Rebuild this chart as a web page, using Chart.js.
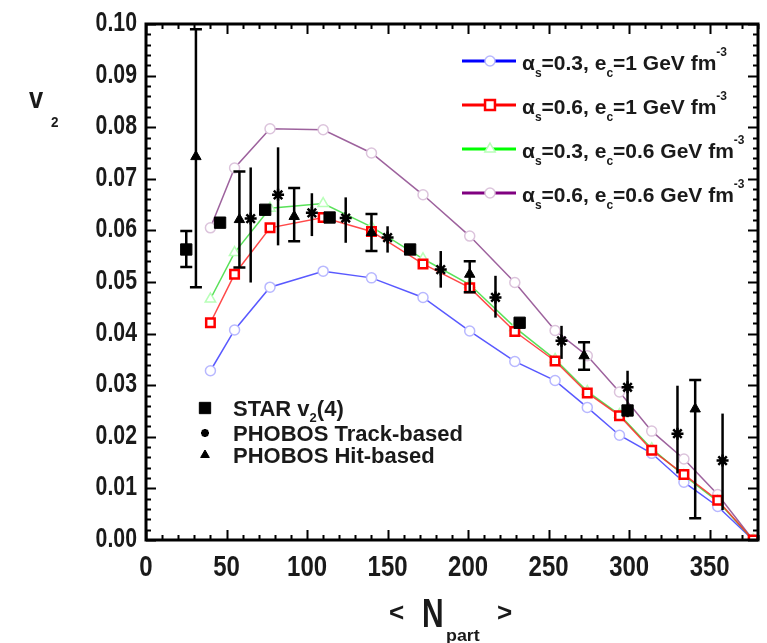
<!DOCTYPE html>
<html>
<head>
<meta charset="utf-8">
<title>v2 vs Npart</title>
<script src="https://cdn.jsdelivr.net/npm/chart.js@4.4.1/dist/chart.umd.min.js"></script>
<style>
  html, body { margin: 0; padding: 0; background: #fff; }
  #wrap { width: 767px; height: 643px; }
</style>
</head>
<body>
<div id="wrap"><canvas id="v2Chart" width="767" height="643"></canvas></div>
<script>
// Theory curves (common Npart grid)
const npartTheory = [40, 55, 77, 110, 140, 172, 201, 229, 254, 274, 294, 314, 334, 355, 377];
const v2As03Ec1  = [0.0328, 0.0407, 0.0490, 0.0521, 0.0508, 0.0470, 0.0405, 0.0346, 0.0309, 0.0257, 0.0203, 0.0168, 0.0112, 0.0065, 0];
const v2As06Ec1  = [0.0421, 0.0515, 0.0605, 0.0625, 0.0598, 0.0535, 0.0489, 0.0404, 0.0347, 0.0285, 0.0241, 0.0174, 0.0127, 0.0077, 0];
const v2As03Ec06 = [0.0467, 0.0557, 0.0643, 0.0652, 0.0607, 0.0545, 0.0495, 0.0412, 0.0350, 0.0288, 0.0243, 0.0177, 0.0125, 0.0075, 0];
const v2As06Ec06 = [0.0605, 0.0721, 0.0797, 0.0795, 0.0750, 0.0669, 0.0589, 0.0499, 0.0406, 0.0357, 0.0287, 0.0211, 0.0157, 0.0088, 0];

// STAR v2{4}
const starNpart = [25, 46, 74, 114, 164, 232, 299];
const starV2    = [0.0563, 0.0615, 0.0640, 0.0625, 0.0563, 0.0421, 0.0251];
const starLo    = [0.0529, null, null, null, null, null, null];
const starHi    = [0.0599, null, null, null, null, null, null];

// PHOBOS track-based
const trackNpart = [65, 82, 103, 124, 150, 183, 217, 258, 299, 330, 358];
const trackV2    = [0.0623, 0.0669, 0.0634, 0.0624, 0.0586, 0.0524, 0.0470, 0.0386, 0.0296, 0.0206, 0.0154];
const trackLo    = [0.0499, 0.0571, 0.0589, 0.0576, 0.0557, 0.0489, 0.0431, 0.0351, 0.0238, 0.0129, 0.0058];
const trackHi    = [0.0722, 0.0761, 0.0672, 0.0664, 0.0608, 0.0560, 0.0512, 0.0415, 0.0328, 0.0299, 0.0245];

// PHOBOS hit-based
const hitNpart = [31, 58, 92, 140, 201, 272, 341];
const hitV2    = [0.0743, 0.0621, 0.0627, 0.0596, 0.0515, 0.0357, 0.0254];
const hitLo    = [0.0490, 0.0528, 0.0579, 0.0560, 0.0480, 0.0330, 0.0042];
const hitHi    = [0.0990, 0.0714, 0.0682, 0.0632, 0.0540, 0.0383, 0.0310];

// Axis ticks
const xTickLabels = [0, 50, 100, 150, 200, 250, 300, 350];
const yTickLabels = [0, 0.01, 0.02, 0.03, 0.04, 0.05, 0.06, 0.07, 0.08, 0.09, 0.10];

const FONT = "'Liberation Sans', Arial, sans-serif";
const INK = '#1a1a1a';

function pts(xs, ys) {
    return xs.map((x, i) => ({ x: x, y: ys[i] }));
}

// draw a string, optionally squeezed horizontally; returns right edge
function txt(ctx, s, x, y, font, sx, align) {
    ctx.save();
    ctx.font = font;
    const w = ctx.measureText(s).width * sx;
    let x0 = x;
    if (align === 'center') x0 = x - w / 2;
    else if (align === 'right') x0 = x - w;
    ctx.translate(x0, y);
    ctx.scale(sx, 1);
    ctx.textAlign = 'left';
    ctx.textBaseline = 'alphabetic';
    ctx.fillStyle = INK;
    ctx.fillText(s, 0, 0);
    ctx.restore();
    return x0 + w;
}

// pieces: [text, font, dy]
function richText(ctx, pieces, x, y) {
    let cx = x;
    pieces.forEach(p => {
        cx = txt(ctx, p[0], cx, y + (p[2] || 0), p[1], 1, 'left');
    });
}

function marker(ctx, style, r, x, y, stroke, fill, bw) {
    ctx.save();
    ctx.strokeStyle = stroke;
    ctx.fillStyle = fill;
    ctx.lineWidth = bw;
    Chart.helpers.drawPoint(ctx, { pointStyle: style, radius: r, borderWidth: bw, rotation: 0 }, x, y);
    ctx.restore();
}

const theoryLegend = [
    { line: '#0000ff', style: 'circle', r: 5, stroke: '#b8b8ff', ec: '1' },
    { line: '#ff0000', style: 'rect', r: 7, stroke: '#ff0000', ec: '1', as: '0.6' },
    { line: '#00ff00', style: 'triangle', r: 6, stroke: '#b8ffb8', ec: '0.6' },
    { line: '#800080', style: 'circle', r: 5, stroke: '#dcc4dc', ec: '0.6', as: '0.6' }
];

const errorBars = {
    id: 'errorBars',
    afterDatasetsDraw(chart) {
        const ctx = chart.ctx;
        const xs = chart.scales.x, ys = chart.scales.y;
        function bars(nx, lo, hi, cap) {
            nx.forEach((n, i) => {
                if (lo[i] == null) return;
                const px = xs.getPixelForValue(n);
                const p1 = ys.getPixelForValue(lo[i]);
                const p2 = ys.getPixelForValue(hi[i]);
                ctx.beginPath();
                ctx.moveTo(px, p1);
                ctx.lineTo(px, p2);
                if (cap) {
                    ctx.moveTo(px - 6, p1); ctx.lineTo(px + 6, p1);
                    ctx.moveTo(px - 6, p2); ctx.lineTo(px + 6, p2);
                }
                ctx.stroke();
            });
        }
        ctx.save();
        ctx.strokeStyle = '#000';
        ctx.lineWidth = 2.5;
        bars(starNpart, starLo, starHi, true);
        bars(trackNpart, trackLo, trackHi, false);
        bars(hitNpart, hitLo, hitHi, true);
        ctx.restore();
    }
};

const frameAndText = {
    id: 'frameAndText',
    afterDraw(chart) {
        const ctx = chart.ctx;
        const a = chart.chartArea;
        const xs = chart.scales.x, ys = chart.scales.y;
        ctx.save();
        ctx.strokeStyle = '#000';

        // inward ticks on all four sides
        ctx.lineWidth = 2;
        ctx.beginPath();
        for (let v = 0; v <= 380; v += 10) {
            const px = Math.round(xs.getPixelForValue(v)) + 0.5;
            const len = v % 50 === 0 ? 10 : 5;
            ctx.moveTo(px, a.bottom); ctx.lineTo(px, a.bottom - len);
            ctx.moveTo(px, a.top); ctx.lineTo(px, a.top + len);
        }
        for (let k = 0; k <= 50; k++) {
            const py = Math.round(ys.getPixelForValue(k * 0.002)) + 0.5;
            const len = k % 5 === 0 ? 10 : 5;
            ctx.moveTo(a.left, py); ctx.lineTo(a.left + len, py);
            ctx.moveTo(a.right, py); ctx.lineTo(a.right - len, py);
        }
        ctx.stroke();

        ctx.lineWidth = 3;
        ctx.strokeRect(a.left, a.top, a.right - a.left, a.bottom - a.top);
        ctx.restore();

        // tick labels
        xTickLabels.forEach(v => {
            txt(ctx, String(v), xs.getPixelForValue(v), 576, 'bold 30px ' + FONT, 0.8, 'center');
        });
        yTickLabels.forEach(v => {
            txt(ctx, v.toFixed(2), 137, ys.getPixelForValue(v) + 7, 'bold 28px ' + FONT, 0.76, 'right');
        });

        // axis titles
        txt(ctx, 'v', 29, 108, 'bold 30px ' + FONT, 0.85, 'left');
        txt(ctx, '2', 51, 127, 'bold 15px ' + FONT, 0.9, 'left');
        txt(ctx, '<', 389, 621, 'bold 26px ' + FONT, 1, 'left');
        txt(ctx, 'N', 422, 627, 'bold 40px ' + FONT, 0.75, 'left');
        txt(ctx, 'part', 446, 641, 'bold 17px ' + FONT, 1.05, 'left');
        txt(ctx, '>', 497, 621, 'bold 26px ' + FONT, 1, 'left');

        // theory legend (top right)
        const f = 'bold 21px ' + FONT, fs = 'bold 12px ' + FONT;
        theoryLegend.forEach((item, i) => {
            const y = 61 + i * 44;
            ctx.save();
            ctx.strokeStyle = item.line;
            ctx.lineWidth = 3;
            ctx.beginPath();
            ctx.moveTo(462, y); ctx.lineTo(516, y);
            ctx.stroke();
            ctx.restore();
            marker(ctx, item.style, item.r, 490, y, item.stroke, '#fff', item.style === 'rect' ? 2.5 : 1.5);
            const as = item.as || '0.3';
            richText(ctx, [
                ['\u03b1', f], ['s', fs, 7], ['=' + as + ', e', f], ['c', fs, 7],
                ['=' + item.ec + ' GeV fm', f], ['-3', fs, -14]
            ], 522, y + 9);
        });

        // data legend (bottom left)
        const g = 'bold 22px ' + FONT, gs = 'bold 13px ' + FONT;
        marker(ctx, 'rect', 8, 205, 408, '#000', '#000', 1);
        richText(ctx, [['STAR v', g], ['2', gs, 6], ['(4)', g]], 233, 416);
        marker(ctx, 'star', 4, 205, 433, '#000', '#000', 2.5);
        richText(ctx, [['PHOBOS Track-based', g]], 233, 441);
        marker(ctx, 'triangle', 5, 205, 455, '#000', '#000', 1);
        richText(ctx, [['PHOBOS Hit-based', g]], 233, 463);
    }
};

function theorySet(label, ys, line, style, r, pointColor, bw, order) {
    return {
        label: label,
        data: pts(npartTheory, ys),
        borderColor: line,
        borderWidth: 1.5,
        pointStyle: style,
        pointRadius: r,
        pointBorderColor: pointColor,
        pointBackgroundColor: '#fff',
        pointBorderWidth: bw,
        tension: 0,
        order: order
    };
}

const ctx = document.getElementById('v2Chart').getContext('2d');
const v2Chart = new Chart(ctx, {
    type: 'line',
    data: {
        datasets: [
            {
                label: 'STAR v2(4)',
                data: pts(starNpart, starV2),
                showLine: false,
                pointStyle: 'rect',
                pointRadius: 8,
                pointBackgroundColor: '#000',
                pointBorderColor: '#000',
                pointBorderWidth: 1,
                order: 0
            },
            {
                label: 'PHOBOS Track-based',
                data: pts(trackNpart, trackV2),
                showLine: false,
                pointStyle: 'star',
                pointRadius: 6,
                pointBorderColor: '#000',
                pointBorderWidth: 2.5,
                order: 0
            },
            {
                label: 'PHOBOS Hit-based',
                data: pts(hitNpart, hitV2),
                showLine: false,
                pointStyle: 'triangle',
                pointRadius: 6,
                pointBackgroundColor: '#000',
                pointBorderColor: '#000',
                pointBorderWidth: 1,
                order: 0
            },
            theorySet('as=0.6, ec=1', v2As06Ec1, 'rgba(255,40,40,0.85)', 'rect', 6, '#ff0000', 2.5, 1),
            theorySet('as=0.3, ec=0.6', v2As03Ec06, 'rgba(60,220,60,0.85)', 'triangle', 6, '#b8ffb8', 1.5, 2),
            theorySet('as=0.3, ec=1', v2As03Ec1, 'rgba(60,60,255,0.85)', 'circle', 5, '#b8b8ff', 1.5, 3),
            theorySet('as=0.6, ec=0.6', v2As06Ec06, 'rgba(140,70,140,0.85)', 'circle', 5, '#dcc4dc', 1.5, 4)
        ]
    },
    options: {
        responsive: false,
        animation: false,
        devicePixelRatio: 1,
        layout: { padding: { top: 24, right: 9, left: 0, bottom: 0 } },
        plugins: {
            legend: { display: false },
            tooltip: { enabled: false }
        },
        scales: {
            x: {
                type: 'linear',
                min: 0,
                max: 380,
                grid: { display: false },
                border: { display: false },
                ticks: { display: false },
                afterFit(scale) { scale.height = 103; }
            },
            y: {
                type: 'linear',
                min: 0,
                max: 0.1,
                grid: { display: false },
                border: { display: false },
                ticks: { display: false },
                afterFit(scale) { scale.width = 146; }
            }
        }
    },
    plugins: [errorBars, frameAndText]
});
</script>
</body>
</html>
